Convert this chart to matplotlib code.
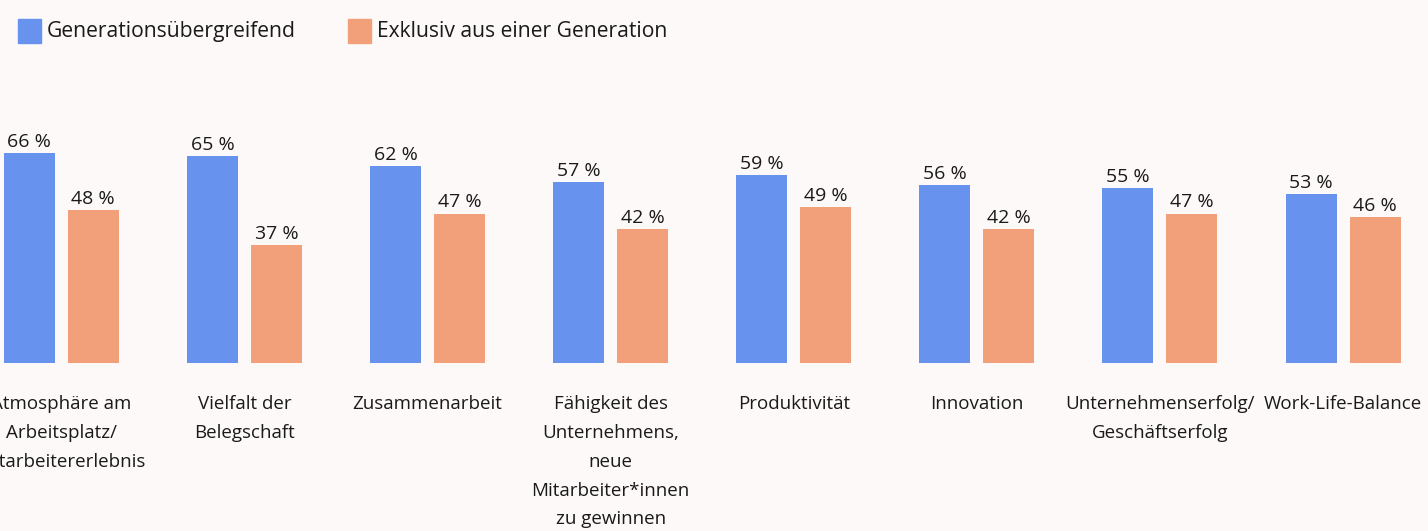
import matplotlib
matplotlib.use("Agg")
import matplotlib.pyplot as plt
from matplotlib.patches import Rectangle
import numpy as np

categories = [
    "Atmosphäre am\nArbeitsplatz/\nMitarbeitererlebnis",
    "Vielfalt der\nBelegschaft",
    "Zusammenarbeit",
    "Fähigkeit des\nUnternehmens,\nneue\nMitarbeiter*innen\nzu gewinnen",
    "Produktivität",
    "Innovation",
    "Unternehmenserfolg/\nGeschäftserfolg",
    "Work-Life-Balance",
]
series_names = ["Generationsübergreifend", "Exklusiv aus einer Generation"]
gen_ueber = [66, 65, 62, 57, 59, 56, 55, 53]
exklusiv = [48, 37, 47, 42, 49, 42, 47, 46]

BLUE = "#6792EE"
ORANGE = "#F1A07A"
BG = "#FDF9F8"
FONT = ["Open Sans", "DejaVu Sans"]
TXT = "#1a1a1a"

W, H = 1428, 531
fig = plt.figure(figsize=(W / 100, H / 100), dpi=100, facecolor=BG)

base_px = 363
top_px = 45
ax = fig.add_axes([0, (H - base_px) / H, 1, (base_px - top_px) / H])
ax.set_facecolor(BG)
spacing = 183.1
c0 = 61.3
ax.set_xlim(-c0 / spacing, (W - c0) / spacing)
ax.set_ylim(0, 100)
for s in ax.spines.values():
    s.set_visible(False)
ax.set_xticks([])
ax.set_yticks([])

x = np.arange(len(categories))
off = 32 / spacing
bw = 51 / spacing
b1 = ax.bar(x - off, gen_ueber, width=bw, color=BLUE)
b2 = ax.bar(x + off, exklusiv, width=bw, color=ORANGE)
for bars, vals in ((b1, gen_ueber), (b2, exklusiv)):
    for r, v in zip(bars, vals):
        ax.annotate(f"{v} %", (r.get_x() + r.get_width() / 2, v),
                    xytext=(0, 1.5), textcoords="offset points",
                    ha="center", va="bottom", fontsize=14,
                    family=FONT, color=TXT, annotation_clip=False)

for xi, lab in zip(x, categories):
    ax.text(xi, -10.0, lab, ha="center", va="top", fontsize=13.5,
            family=FONT, color=TXT, linespacing=1.78, clip_on=False)

# legend
for name, col, xp in zip(series_names, [BLUE, ORANGE], [18, 348]):
    fig.patches.append(Rectangle((xp / W, 1 - 43 / H), 23 / W, 24 / H,
                                 transform=fig.transFigure, color=col))
    fig.text((xp + 29) / W, 1 - 31.5 / H, name, ha="left", va="center",
             fontsize=15.2, family=FONT, color=TXT)

fig.savefig("out.png", dpi=100, facecolor=BG)
